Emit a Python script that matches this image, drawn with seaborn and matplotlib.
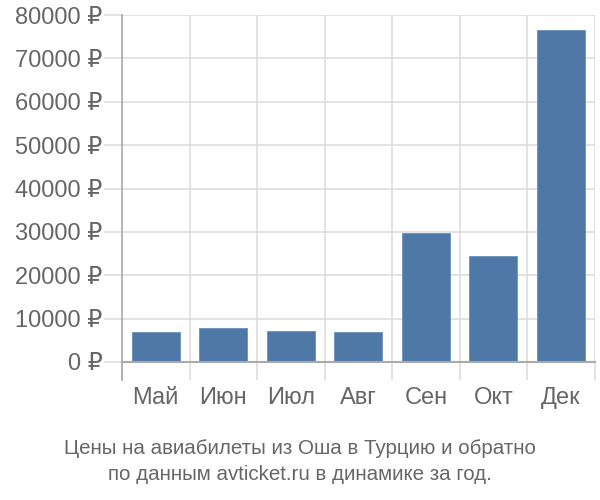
import matplotlib
matplotlib.use("Agg")
import matplotlib.pyplot as plt
import seaborn as sns
import pandas as pd
import numpy as np
from matplotlib.ticker import FixedLocator, FuncFormatter

months = ["Май", "Июн", "Июл", "Авг", "Сен", "Окт", "Дек"]
prices = [6980, 7820, 7060, 6980, 29760, 24550, 76470]
yticks = [0, 10000, 20000, 30000, 40000, 50000, 60000, 70000, 80000]
title = "Цены на авиабилеты из Оша в Турцию и обратно\nпо данным avticket.ru в динамике за год."

sns.set_theme(style="white")
plt.rcParams['font.family'] = ['Liberation Sans', 'DejaVu Sans']

df = pd.DataFrame({"month": months, "price": prices})

fig = plt.figure(figsize=(6, 5), dpi=100)
ax = fig.add_axes([0.2033, 0.276, 0.788, 0.694])

sns.barplot(data=df, x="month", y="price", color="#4e79a7", width=0.71,
            saturation=1, ax=ax, edgecolor="#6a8fbb", linewidth=0.6)

ax.set_ylim(0, 80000)
ax.set_xlim(-0.5, len(months) - 0.5)
ax.yaxis.set_major_locator(FixedLocator(yticks))
ax.yaxis.set_major_formatter(FuncFormatter(lambda v, p: f"{int(v)} ₽"))
ax.set_xlabel("")
ax.set_ylabel("")

ax.xaxis.set_minor_locator(FixedLocator(np.arange(-0.5, len(months), 1.0)))
ax.grid(True, axis="y", which="major", color="#dddddd", linewidth=1.2)
ax.grid(True, axis="x", which="minor", color="#dddddd", linewidth=1.2)
ax.grid(False, axis="x", which="major")
ax.set_axisbelow(True)

ax.tick_params(axis="y", which="major", length=13, width=1.2, color="#dddddd",
               labelsize=17, labelcolor="#666666", pad=1, left=True)
ax.tick_params(axis="x", which="major", length=0, labelsize=17,
               labelcolor="#666666", pad=18)
ax.tick_params(axis="x", which="minor", length=13, width=1.2, color="#dddddd",
               bottom=True)

for s in ["top", "right"]:
    ax.spines[s].set_visible(False)
ax.spines["left"].set_color("#aaaaaa")
ax.spines["left"].set_linewidth(1.2)
ax.spines["left"].set_bounds(-4150, 80000)
ax.spines["bottom"].set_color("#aaaaaa")
ax.spines["bottom"].set_linewidth(1.5)

fig.text(0.5, 0.077, title, ha="center", va="center", fontsize=14.8,
         color="#666666", linespacing=1.45)

fig.savefig("out.png", dpi=100)
